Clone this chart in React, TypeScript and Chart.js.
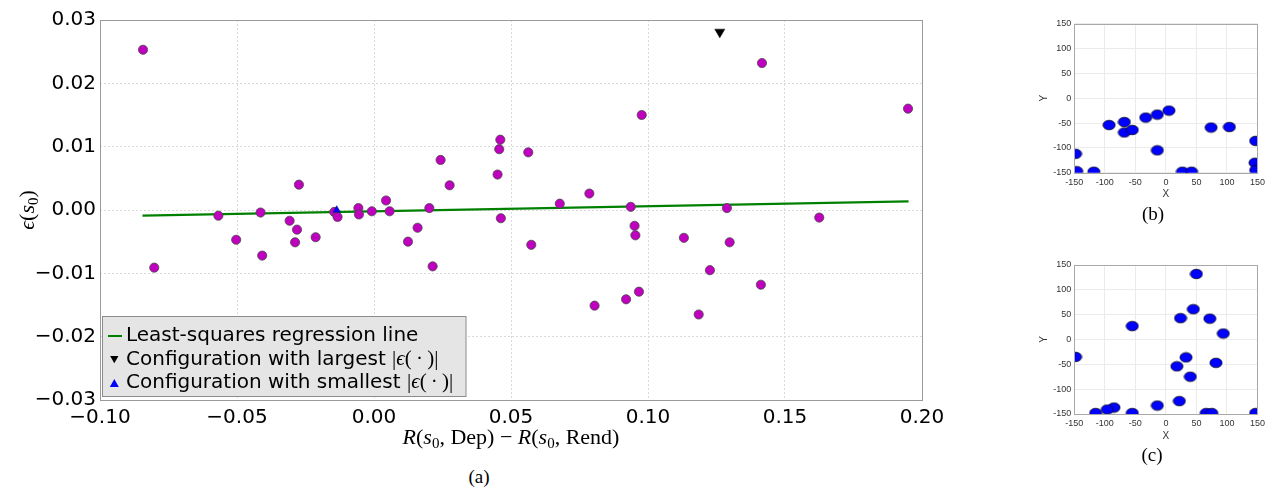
import React, { useEffect, useRef } from 'react';
import { Chart, registerables } from 'chart.js';

Chart.register(...registerables);

// ---------------- data: panel (a) ----------------
const residualX = [
  -0.0843, -0.0802, -0.0568, -0.0503, -0.0414, -0.0408, -0.0308, -0.0281, -0.0288, -0.0274,
  -0.0213, -0.0145, -0.0133, -0.0057, -0.0055, -0.0008, 0.0044, 0.0057, 0.0202, 0.0159,
  0.0124, 0.0214, 0.0243, 0.0276, 0.0451, 0.0457, 0.0461, 0.0463, 0.0563, 0.0574,
  0.0678, 0.0786, 0.0805, 0.0920, 0.0967, 0.0937, 0.0951, 0.0954, 0.0977, 0.1131,
  0.1416, 0.1949, 0.1288, 0.1625, 0.1298, 0.1226, 0.1412, 0.1185,
];
const residualY = [
  0.0253, -0.0091, -0.0009, -0.0047, -0.0004, -0.0072, -0.0017, -0.0031, -0.0051, 0.0040,
  -0.0043, -0.0003, -0.0011, 0.0003, -0.0007, -0.0002, 0.0015, -0.0002, 0.0003, -0.0028,
  -0.0050, -0.0089, 0.0079, 0.0039, 0.0056, 0.0096, 0.0111, -0.0013, 0.0091, -0.0055,
  0.0010, 0.0026, -0.0151, -0.0141, -0.0129, 0.0005, -0.0025, -0.0040, 0.0150, -0.0044,
  0.0232, 0.0160, 0.0003, -0.0012, -0.0051, -0.0095, -0.0118, -0.0165,
];
const largestX = [0.1262];
const largestY = [0.0281];
const smallestX = [-0.0136];
const smallestY = [0.0];
const fitX = [-0.0845, 0.1951];
const fitY = [-0.0009, 0.00136];
const mainXTicks = [-0.1, -0.05, 0, 0.05, 0.1, 0.15, 0.2];
const mainYTicks = [-0.03, -0.02, -0.01, 0, 0.01, 0.02, 0.03];
const legendLabels = [
  'Least-squares regression line',
  'Configuration with largest ',
  'Configuration with smallest ',
];

// ---------------- data: panels (b) and (c) ----------------
const panelBX = [-148, -146, -118, -93, -68, -68, -55, -33, -14, 5, -14, 27, 42, 74, 104, 147, 146, 147];
const panelBY = [-112, -147, -148, -54, -48, -69, -64, -39, -33, -25, -105, -148, -148, -59, -58, -86, -130, -145];
const panelCX = [50, 45, 24, 72, 94, -55, -148, 33, 18, 40, 82, 22, -14, -85, -96, -115, -55, 66, 75, 147];
const panelCY = [132, 61, 43, 42, 12, 27, -35, -36, -54, -75, -47, -124, -133, -137, -141, -148, -148, -148, -148, -148];
const panelTicks = [-150, -100, -50, 0, 50, 100, 150];

const zip = (xs: number[], ys: number[]) => xs.map((x, i) => ({ x, y: ys[i] }));

type Seg = { t: string; it?: boolean; sub?: boolean };

function drawRich(
  ctx: CanvasRenderingContext2D,
  segs: Seg[],
  cx: number,
  cy: number,
  size: number,
  family: string,
  rotate = 0
) {
  ctx.save();
  ctx.translate(cx, cy);
  if (rotate) ctx.rotate(rotate);
  const fontOf = (s: Seg) => `${s.it ? 'italic ' : ''}${s.sub ? Math.round(size * 0.7) : size}px ${family}`;
  let total = 0;
  const widths = segs.map((s) => {
    ctx.font = fontOf(s);
    const w = ctx.measureText(s.t).width;
    total += w;
    return w;
  });
  let x = -total / 2;
  ctx.textAlign = 'left';
  ctx.textBaseline = 'alphabetic';
  ctx.fillStyle = '#000';
  segs.forEach((s, i) => {
    ctx.font = fontOf(s);
    ctx.fillText(s.t, x, size * 0.3 + (s.sub ? size * 0.22 : 0));
    x += widths[i];
  });
  ctx.restore();
}

function drawTri(ctx: CanvasRenderingContext2D, x: number, y: number, r: number, down: boolean, fill: string) {
  const d = down ? -1 : 1;
  ctx.save();
  ctx.fillStyle = fill;
  ctx.beginPath();
  ctx.moveTo(x, y - d * r);
  ctx.lineTo(x + r * 0.866, y + d * r * 0.5);
  ctx.lineTo(x - r * 0.866, y + d * r * 0.5);
  ctx.closePath();
  ctx.fill();
  ctx.restore();
}

const fmtMain = (v: number) => {
  if (Math.abs(v) < 1e-9) return '0.00';
  return (v < 0 ? '\u2212' : '') + Math.abs(v).toFixed(2);
};

const SANS = '"DejaVu Sans"';
const SERIF = '"Liberation Serif"';

const mainDecor = {
  id: 'mainDecor',
  afterDraw(chart: any) {
    const ctx: CanvasRenderingContext2D = chart.ctx;
    const a = chart.chartArea;
    // frame
    ctx.save();
    ctx.strokeStyle = '#9a9a9a';
    ctx.lineWidth = 1;
    ctx.strokeRect(Math.round(a.left) + 0.5, Math.round(a.top) + 0.5, Math.round(a.right - a.left), Math.round(a.bottom - a.top));
    ctx.restore();

    // axis titles
    drawRich(
      ctx,
      [
        { t: 'R', it: true }, { t: '(' }, { t: 's', it: true }, { t: '0', sub: true }, { t: ', Dep) \u2212 ' },
        { t: 'R', it: true }, { t: '(' }, { t: 's', it: true }, { t: '0', sub: true }, { t: ', Rend)' },
      ],
      (a.left + a.right) / 2,
      437,
      22,
      SERIF
    );
    drawRich(
      ctx,
      [{ t: '\u03f5', it: true }, { t: '(' }, { t: 's', it: true }, { t: '0', sub: true }, { t: ')' }],
      27,
      (a.top + a.bottom) / 2,
      22,
      SERIF,
      -Math.PI / 2
    );

    // legend
    ctx.save();
    ctx.fillStyle = '#e5e5e5';
    ctx.fillRect(103, 316.5, 363, 80);
    ctx.strokeStyle = '#8c8c8c';
    ctx.lineWidth = 1;
    ctx.strokeRect(102.5, 316.5, 363.5, 80);
    ctx.strokeStyle = '#008000';
    ctx.lineWidth = 2;
    ctx.beginPath();
    ctx.moveTo(108, 336);
    ctx.lineTo(122, 336);
    ctx.stroke();
    drawTri(ctx, 114.3, 358.5, 4.8, true, '#000');
    drawTri(ctx, 114.3, 384.3, 5.2, false, '#0000ff');
    ctx.fillStyle = '#000';
    ctx.font = `20px ${SANS}`;
    ctx.textAlign = 'left';
    ctx.textBaseline = 'alphabetic';
    const baselines = [341, 364.5, 388];
    legendLabels.forEach((lab, i) => {
      ctx.font = `20px ${SANS}`;
      ctx.fillText(lab, 126, baselines[i]);
      if (i > 0) {
        let x = 126 + ctx.measureText(lab).width;
        const parts: Seg[] = [{ t: '|' }, { t: '\u03f5', it: true }, { t: '(\u2009\u00b7\u2009)' }, { t: '|' }];
        parts.forEach((p) => {
          ctx.font = `${p.it ? 'italic ' : ''}21px ${SERIF}`;
          ctx.fillText(p.t, x, baselines[i]);
          x += ctx.measureText(p.t).width;
        });
      }
    });
    ctx.restore();
  },
};

function mainConfig(): any {
  return {
    type: 'scatter',
    data: {
      datasets: [
        {
          label: 'smallest',
          data: zip(smallestX, smallestY),
          pointStyle: 'triangle',
          pointRadius: 4.3,
          pointBackgroundColor: '#0000ff',
          pointBorderColor: '#00007a',
          pointBorderWidth: 0.5,
        },
        {
          label: 'largest',
          data: zip(largestX, largestY),
          pointStyle: 'triangle',
          pointRotation: 180,
          pointRadius: 5.8,
          pointBackgroundColor: '#000000',
          pointBorderColor: '#000000',
          pointBorderWidth: 0.5,
        },
        {
          label: 'residuals',
          data: zip(residualX, residualY),
          pointStyle: 'circle',
          pointRadius: 4.6,
          pointBackgroundColor: '#bf00bf',
          pointBorderColor: '#4a4a4a',
          pointBorderWidth: 0.8,
        },
        {
          label: 'fit',
          data: zip(fitX, fitY),
          showLine: true,
          pointRadius: 0,
          borderColor: '#008000',
          borderWidth: 2.2,
        },
      ],
    },
    options: {
      animation: false,
      responsive: false,
      events: [],
      layout: { padding: { left: 0, right: 38, top: 20, bottom: 0 } },
      plugins: { legend: { display: false }, tooltip: { enabled: false } },
      scales: {
        x: {
          type: 'linear',
          min: -0.1,
          max: 0.2,
          afterBuildTicks: (s: any) => {
            s.ticks = mainXTicks.map((v) => ({ value: v }));
          },
          afterFit: (s: any) => {
            s.height = 60;
          },
          ticks: {
            font: { family: 'DejaVu Sans', size: 20 },
            color: '#000',
            padding: 5.5,
            maxRotation: 0,
            autoSkip: false,
            callback: (v: number) => fmtMain(v),
          },
          grid: { color: '#dadada', lineWidth: 1, drawTicks: false },
          border: { display: false, dash: [2, 2] },
        },
        y: {
          type: 'linear',
          min: -0.03,
          max: 0.03,
          afterBuildTicks: (s: any) => {
            s.ticks = mainYTicks.map((v) => ({ value: v }));
          },
          afterFit: (s: any) => {
            s.width = 100;
          },
          ticks: {
            font: { family: 'DejaVu Sans', size: 20 },
            color: '#000',
            padding: 4,
            autoSkip: false,
            callback: (v: number) => fmtMain(v),
          },
          grid: { color: '#dadada', lineWidth: 1, drawTicks: false },
          border: { display: false, dash: [2, 2] },
        },
      },
    },
    plugins: [mainDecor],
  };
}

function makeEllipse(): HTMLCanvasElement {
  const c = document.createElement('canvas');
  c.width = 14;
  c.height = 12;
  const g = c.getContext('2d')!;
  g.beginPath();
  g.ellipse(7, 6, 6.1, 4.8, 0, 0, Math.PI * 2);
  g.fillStyle = '#0000ff';
  g.fill();
  g.strokeStyle = '#000';
  g.lineWidth = 0.7;
  g.stroke();
  return c;
}

function panelConfig(xs: number[], ys: number[], marker: HTMLCanvasElement, top: number, axisH: number, xLabelY: number): any {
  const tickFont = { family: 'Liberation Sans', size: 9 };
  const decor = {
    id: 'panelDecor',
    afterDraw(chart: any) {
      const ctx: CanvasRenderingContext2D = chart.ctx;
      const a = chart.chartArea;
      ctx.save();
      ctx.strokeStyle = '#a8a8a8';
      ctx.lineWidth = 1;
      ctx.strokeRect(Math.round(a.left) + 0.5, Math.round(a.top) + 0.5, Math.round(a.right - a.left), Math.round(a.bottom - a.top));
      ctx.fillStyle = '#333';
      ctx.font = '10px "Liberation Sans"';
      ctx.textAlign = 'center';
      ctx.textBaseline = 'middle';
      ctx.fillText('X', (a.left + a.right) / 2, xLabelY);
      ctx.translate(24, (a.top + a.bottom) / 2);
      ctx.rotate(-Math.PI / 2);
      ctx.fillText('Y', 0, 0);
      ctx.restore();
    },
  };
  const axis = (isX: boolean) => ({
    type: 'linear',
    min: -150,
    max: 150,
    afterBuildTicks: (s: any) => {
      s.ticks = panelTicks.map((v) => ({ value: v }));
    },
    afterFit: (s: any) => {
      if (isX) s.height = axisH;
      else s.width = 54.3;
    },
    ticks: {
      font: tickFont,
      color: '#333',
      padding: isX ? 4 : 3,
      maxRotation: 0,
      autoSkip: false,
      callback: (v: number) => String(v),
    },
    grid: { color: '#ebebeb', lineWidth: 1, drawTicks: false },
    border: { display: false },
  });
  return {
    type: 'scatter',
    data: {
      datasets: [
        {
          data: zip(xs, ys),
          pointStyle: marker,
          pointRadius: 6,
          clip: 0,
        },
      ],
    },
    options: {
      animation: false,
      responsive: false,
      events: [],
      layout: { padding: { left: 0, right: 11.3, top, bottom: 0 } },
      plugins: { legend: { display: false }, tooltip: { enabled: false } },
      scales: { x: axis(true), y: axis(false) },
    },
    plugins: [decor],
  };
}

const captionStyle = (cx: number, cy: number): React.CSSProperties => ({
  position: 'absolute',
  left: cx - 40,
  top: cy - 11,
  width: 80,
  height: 22,
  lineHeight: '22px',
  textAlign: 'center',
  fontFamily: '"Liberation Serif", serif',
  fontSize: 19,
  color: '#000',
});

export default function App() {
  const mainRef = useRef<HTMLCanvasElement>(null);
  const bRef = useRef<HTMLCanvasElement>(null);
  const cRef = useRef<HTMLCanvasElement>(null);

  useEffect(() => {
    const marker = makeEllipse();
    const charts: Chart[] = [];
    if (mainRef.current) charts.push(new Chart(mainRef.current, mainConfig()));
    if (bRef.current) charts.push(new Chart(bRef.current, panelConfig(panelBX, panelBY, marker, 23.7, 32.3, 194.3)));
    if (cRef.current) charts.push(new Chart(cRef.current, panelConfig(panelCX, panelCY, marker, 25, 31, 196)));
    return () => charts.forEach((c) => c.destroy());
  }, []);

  return (
    <div
      style={{
        position: 'absolute',
        left: 0,
        top: 0,
        width: 1269,
        height: 487,
        background: '#fff',
        overflow: 'hidden',
      }}
    >
      <canvas ref={mainRef} width={960} height={460} style={{ position: 'absolute', left: 0, top: 0, width: 960, height: 460 }} />
      <canvas ref={bRef} width={249} height={205} style={{ position: 'absolute', left: 1020, top: 0, width: 249, height: 205 }} />
      <canvas ref={cRef} width={249} height={205} style={{ position: 'absolute', left: 1020, top: 240, width: 249, height: 205 }} />
      <div style={captionStyle(479, 477)}>(a)</div>
      <div style={captionStyle(1153, 214)}>(b)</div>
      <div style={captionStyle(1152, 455)}>(c)</div>
    </div>
  );
}
